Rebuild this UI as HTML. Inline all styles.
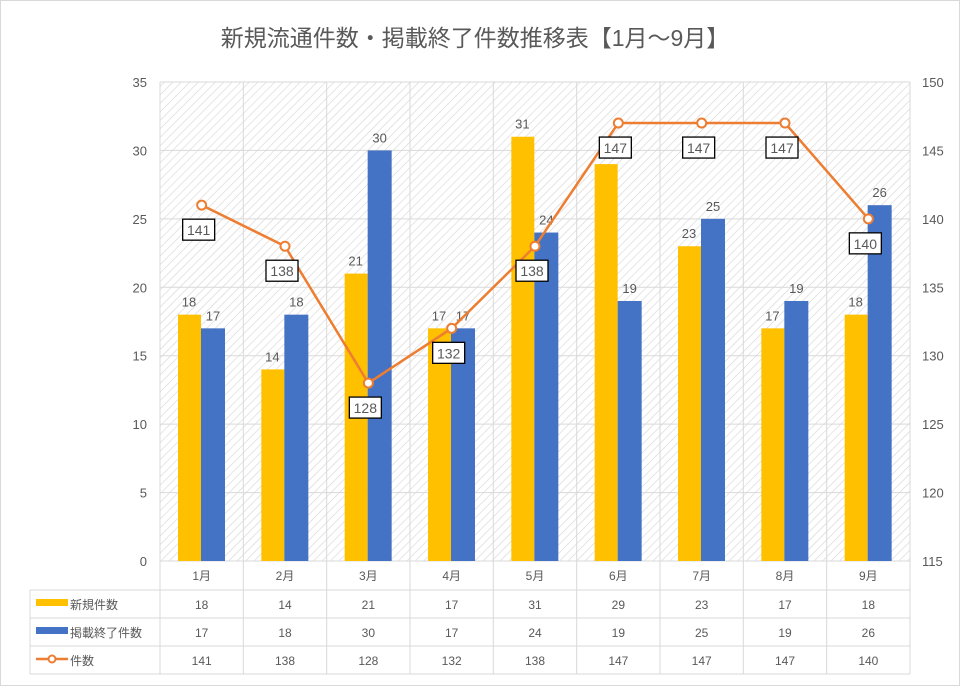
<!DOCTYPE html>
<html><head><meta charset="utf-8"><style>
body{margin:0;background:#fff}
svg{display:block;font-family:"Liberation Sans","Noto Sans CJK JP",sans-serif}
</style></head><body>
<svg id="c" width="960" height="686" viewBox="0 0 960 686">
<defs><pattern id="h" width="6" height="6" patternUnits="userSpaceOnUse" patternTransform="rotate(45)"><rect width="6" height="6" fill="#fff"/><line x1="0" y1="0" x2="0" y2="6" stroke="#d4d4d4" stroke-width="1.2"/></pattern></defs>
<rect x="0.5" y="0.5" width="959" height="685" fill="#fff" stroke="#d9d9d9"/>
<text x="475" y="46" text-anchor="middle" font-size="23" fill="#595959">新規流通件数・掲載終了件数推移表【1月～9月】</text>
<g id="g"></g>
</svg>
<script>
const categories=["1月","2月","3月","4月","5月","6月","7月","8月","9月"];
const newCounts=[18,14,21,17,31,29,23,17,18];
const endCounts=[17,18,30,17,24,19,25,19,26];
const totals=[141,138,128,132,138,147,147,147,140];
const leftTicks=[0,5,10,15,20,25,30,35];
const rightTicks=[115,120,125,130,135,140,145,150];
const seriesNames=["新規件数","掲載終了件数","件数"];
const NS="http://www.w3.org/2000/svg",g=document.getElementById('g');
const L=160,R=910,T=82,B=561,cw=(R-L)/categories.length;
const yl=v=>B-(v-0)/35*(B-T), yr=v=>B-(v-115)/35*(B-T), xc=i=>L+cw*(i+0.5);
function mk(t,a,p){const e=document.createElementNS(NS,t);for(const k in a)e.setAttribute(k,a[k]);(p||g).appendChild(e);return e;}
function tx(x,y,s,a,p){const e=mk('text',Object.assign({x:x,y:y,'font-size':13,fill:'#595959','text-anchor':'middle'},a||{}),p);e.textContent=s;return e;}
let e=mk('rect',{x:L,y:T,width:R-L,height:B-T,fill:'url(#h)'});

leftTicks.forEach((v,i)=>{const y=yl(v);
 e=mk('line',{x1:L,x2:R,y1:y,y2:y,stroke:'#d9d9d9'});
 e=tx(147,y+5,String(v),{'text-anchor':'end'});});
rightTicks.forEach(v=>{e=tx(922,yr(v)+5,String(v),{'text-anchor':'start'});});
for(let i=0;i<=categories.length;i++){const x=L+cw*i;
 e=mk('line',{x1:x,x2:x,y1:T,y2:674,stroke:'#d9d9d9'});}
[590,618,646,674].forEach(y=>{e=mk('line',{x1:30,x2:R,y1:y,y2:y,stroke:'#d9d9d9'});});
e=mk('line',{x1:30,x2:30,y1:590,y2:674,stroke:'#d9d9d9'});
categories.forEach((c,i)=>{const x=xc(i),x0=L+cw*i;
 e=mk('rect',{x:x0+18,y:yl(newCounts[i]),width:23,height:B-yl(newCounts[i]),fill:'#ffc000'});
 e=mk('rect',{x:x0+41,y:yl(endCounts[i]),width:24,height:B-yl(endCounts[i]),fill:'#4472c4'});
 e=tx(x0+29,yl(newCounts[i])-8,String(newCounts[i]));
 e=tx(x0+53,yl(endCounts[i])-8,String(endCounts[i]));
 e=tx(x,580,c,{'font-size':12});
 e=tx(x,609,String(newCounts[i]),{'font-size':12});
 e=tx(x,637,String(endCounts[i]),{'font-size':12});
 e=tx(x,665,String(totals[i]),{'font-size':12});
});
e=mk('polyline',{points:totals.map((v,i)=>xc(i)+','+yr(v)).join(' '),fill:'none',stroke:'#ed7d31','stroke-width':2.5});

totals.forEach((v,i)=>{const x=xc(i),y=yr(v);
 e=mk('circle',{cx:x,cy:y,r:4.5,fill:'#fff',stroke:'#ed7d31','stroke-width':2});
 e=mk('rect',{x:x-19,y:y+14,width:32,height:21,fill:'#fff',stroke:'#000','stroke-width':1.3});
 e=tx(x-3,y+30,String(v),{'font-size':14});});
// legend in table
e=mk('rect',{x:36,y:599,width:32,height:7,fill:'#ffc000'});
e=mk('rect',{x:36,y:627,width:32,height:7,fill:'#4472c4'});
e=mk('line',{x1:36,x2:68,y1:659,y2:659,stroke:'#ed7d31','stroke-width':2.5});
e=mk('circle',{cx:52,cy:659,r:3.5,fill:'#fff',stroke:'#ed7d31','stroke-width':2});
[609,637,665].forEach((y,k)=>{e=tx(70,y,seriesNames[k],{'text-anchor':'start','font-size':12});});
</script>
</body></html>
